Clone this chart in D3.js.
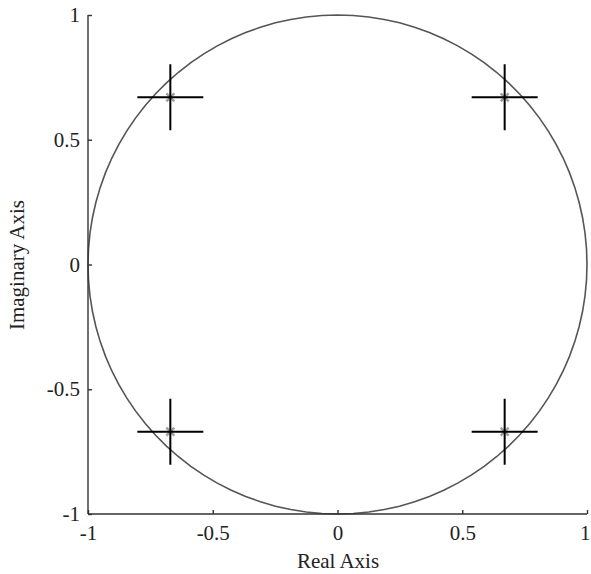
<!DOCTYPE html>
<html>
<head>
<meta charset="utf-8">
<script src="https://cdn.jsdelivr.net/npm/d3@7"></script>
<style>
body{margin:0;background:#fff;}
text{font-family:"Liberation Serif","Times New Roman",serif;fill:#222;}
</style>
</head>
<body>
<svg id="chart" width="591" height="574"></svg>
<script>
// pole / zero locations
const polesRe = [-0.67, 0.67, -0.67, 0.67]
const polesIm = [0.67, 0.67, -0.67, -0.67]
const xTicks = [-1, -0.5, 0, 0.5, 1]
const yTicks = [-1, -0.5, 0, 0.5, 1]
const xTickLabels = ["-1", "-0.5", "0", "0.5", "1"]
const yTickLabels = ["-1", "-0.5", "0", "0.5", "1"]

const svg = d3.select("#chart")
const X = d3.scaleLinear().domain([-1,1]).range([88,587])
const Y = d3.scaleLinear().domain([-1,1]).range([514,15])

// unit circle
const circ = d3.range(0, 2*Math.PI+0.001, Math.PI/50).map(t=>({x:Math.cos(t),y:Math.sin(t)}))
const line = d3.line().x(d=>X(d.x)).y(d=>Y(d.y))
svg.append("path").datum(circ)
	.attr("d",line).attr("fill","none")
	.attr("stroke","#555").attr("stroke-width",1.6)

// axes
const ax = svg.append("g").attr("transform","translate(0,514)")
	.call(d3.axisTop(X).tickValues(xTicks).tickSize(4).tickFormat((d,i)=>xTickLabels[i]))
ax.select(".domain").attr("d","M88,0H587")
ax.selectAll("text").attr("y",19).attr("dy","0.35em")
ax.selectAll("text").filter(d=>d===1).attr("text-anchor","end").attr("x",3)
const ay = svg.append("g").attr("transform","translate(88,0)")
	.call(d3.axisRight(Y).tickValues(yTicks).tickSize(4).tickFormat((d,i)=>yTickLabels[i]))
ay.select(".domain").attr("d","M0,15V514")
ay.selectAll("text").attr("x",-8).attr("text-anchor","end")
svg.selectAll(".domain,.tick line").attr("stroke","#333").attr("stroke-width",1.4)
svg.selectAll(".tick text").style("font-size","21px").style("font-family","Liberation Serif").attr("fill","#222")

const pts = polesRe.map((r,i)=>({x:r,y:polesIm[i]}))

// small grey x markers
const g1 = svg.append("g")
g1.selectAll("path").data(pts).enter().append("path")
	.attr("d",d=>{const cx=X(d.x),cy=Y(d.y),s=4;return `M${cx-s},${cy-s}L${cx+s},${cy+s}M${cx-s},${cy+s}L${cx+s},${cy-s}`})
	.attr("stroke","#a0a0a0").attr("stroke-width",2.5)

// big black plus markers
const g2 = svg.append("g")
g2.selectAll("path").data(pts).enter().append("path")
	.attr("d",d=>{const cx=X(d.x),cy=Y(d.y),s=33;return `M${cx-s},${cy}H${cx+s}M${cx},${cy-s}V${cy+s}`})
	.attr("stroke","#000").attr("stroke-width",2)

// axis labels
svg.append("text").attr("x",338).attr("y",568).attr("text-anchor","middle")
	.style("font-size","21px").text("Real Axis")
svg.append("text").attr("transform","translate(24,265) rotate(-90)").attr("text-anchor","middle")
	.style("font-size","21px").text("Imaginary Axis")
</script>
</body>
</html>
